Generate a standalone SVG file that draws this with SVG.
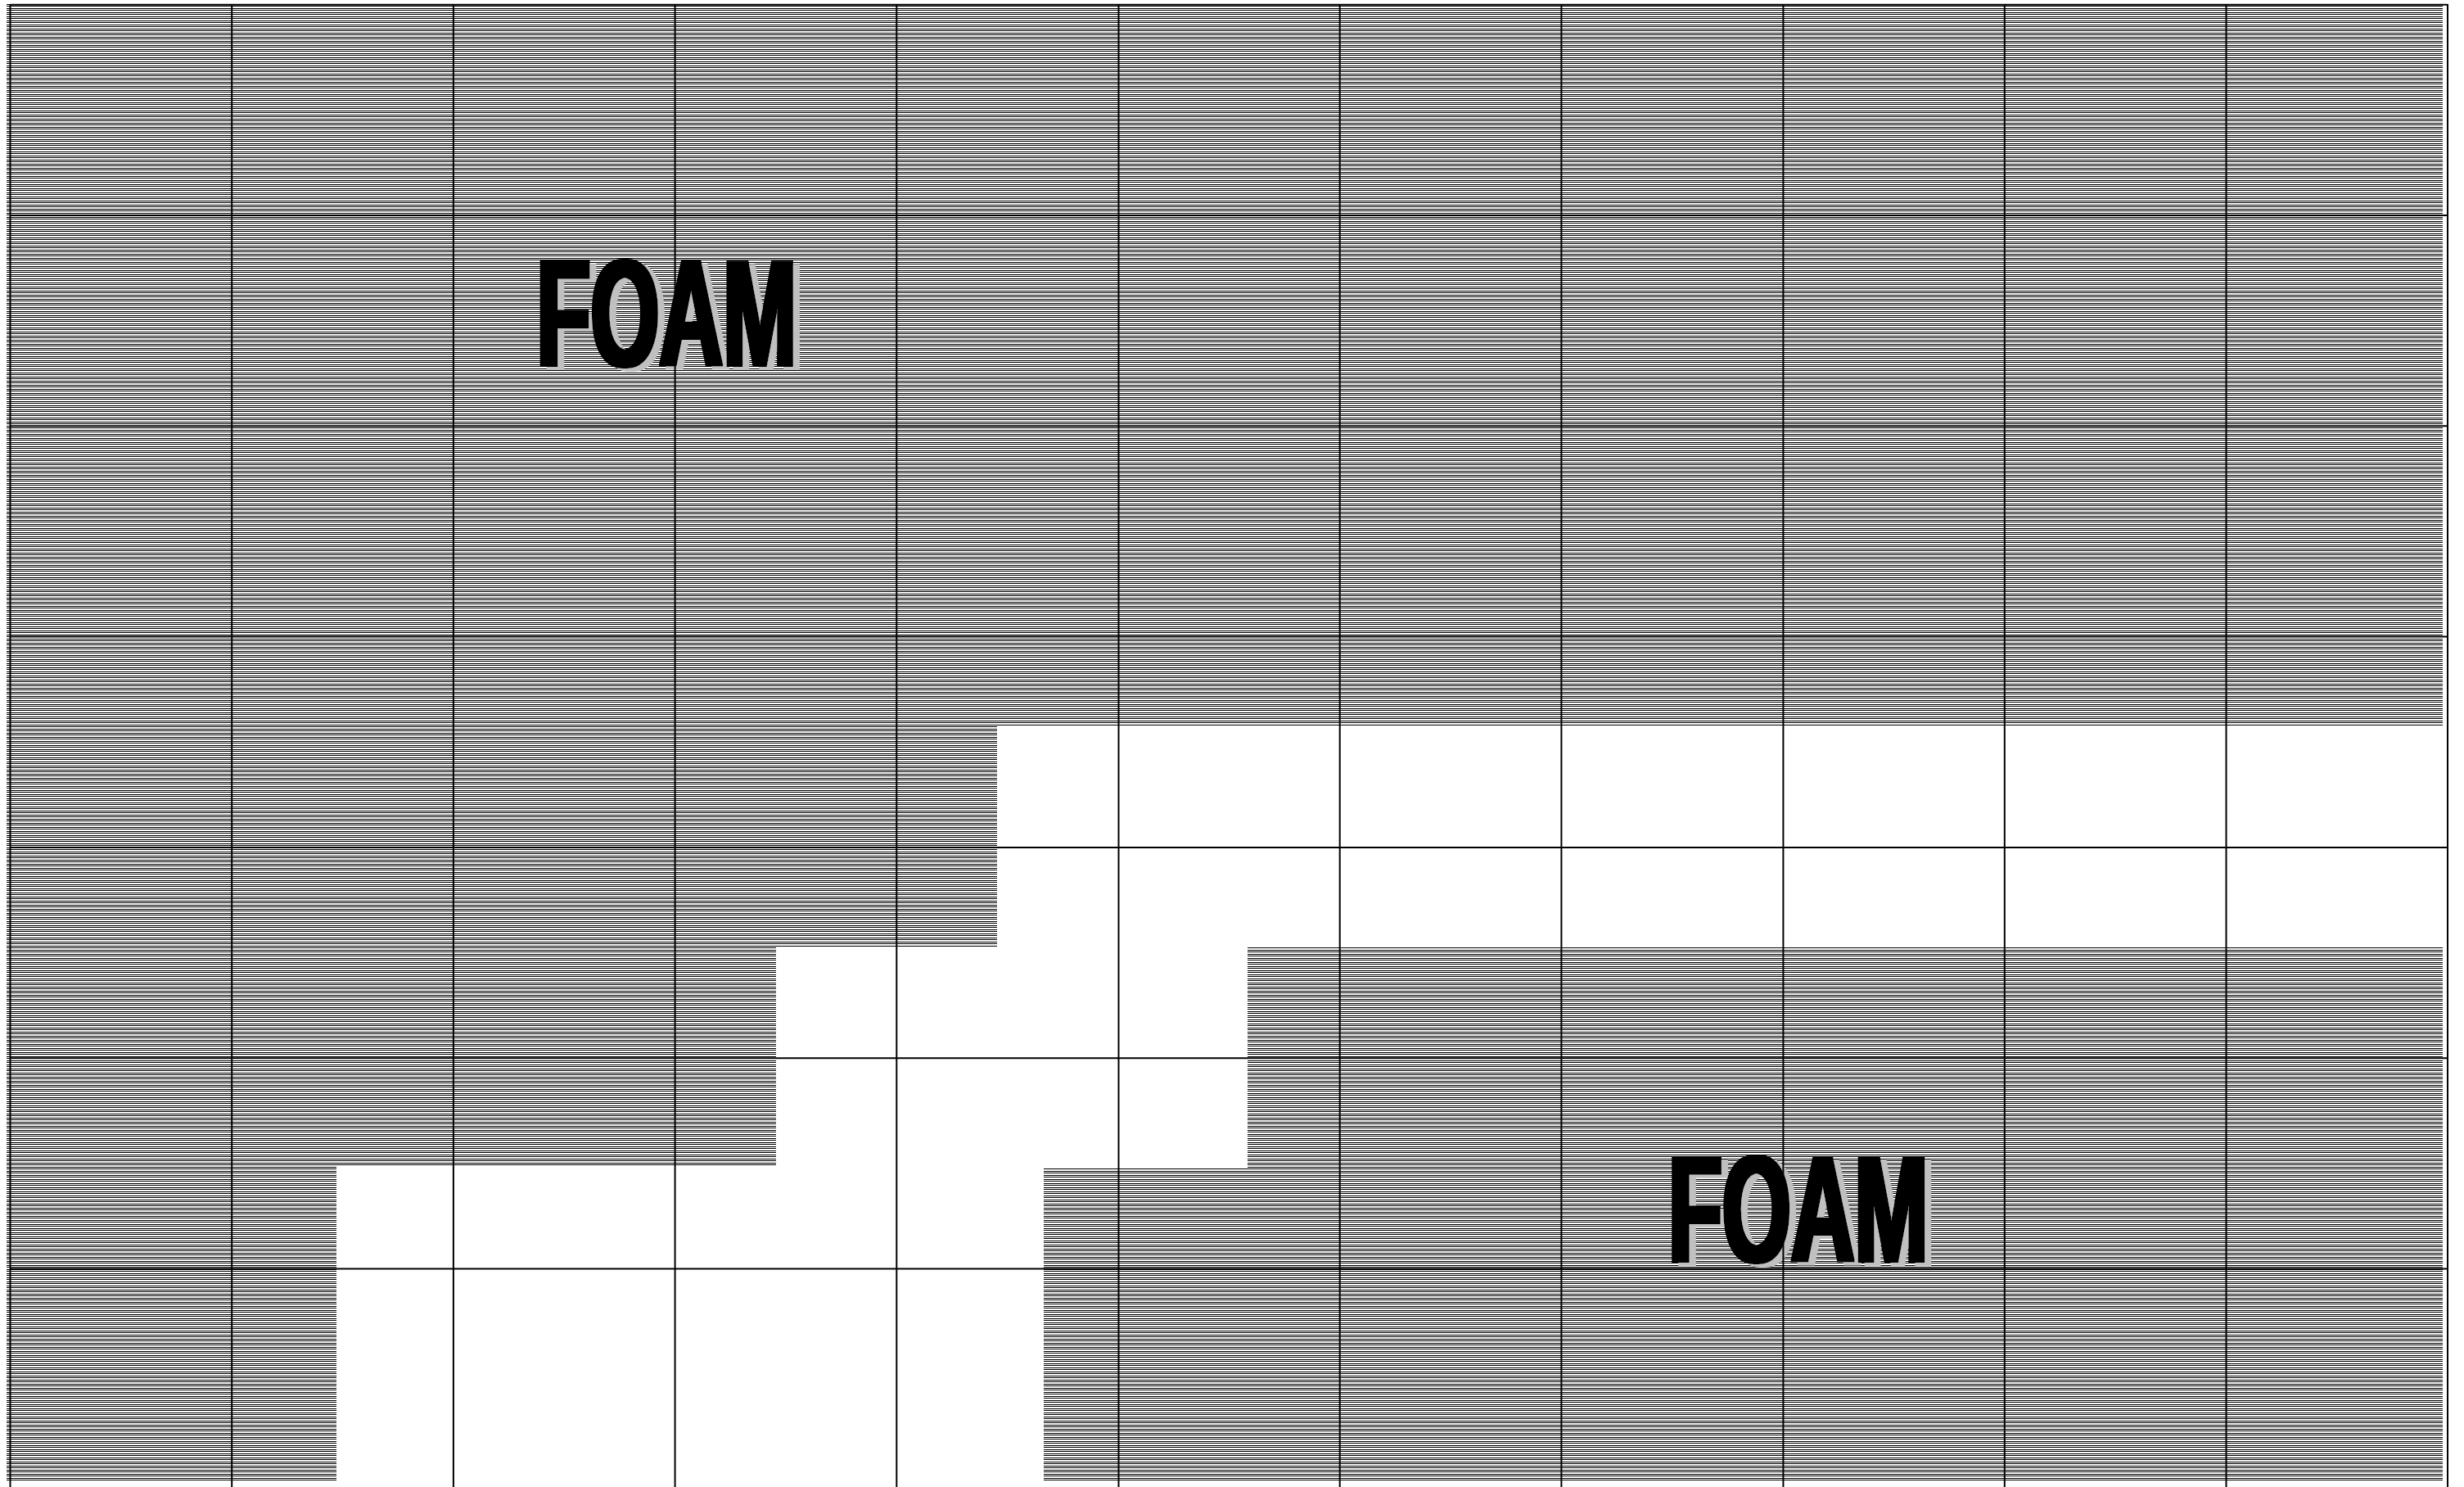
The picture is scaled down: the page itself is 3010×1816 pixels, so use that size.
<svg xmlns="http://www.w3.org/2000/svg" width="3010" height="1816" viewBox="0 0 3010 1816">
  <style>
    .hatch { fill: url(#hl); stroke: none; }
    .grid line { stroke: #000; stroke-width: 2; }
    .foam { font-family: "Liberation Sans", Arial, sans-serif; font-weight: bold; font-size: 186px; fill: #000; filter: url(#foamfx); }
  </style>
  <defs>
    <pattern id="hl" patternUnits="userSpaceOnUse" x="0" y="0" width="10" height="5">
      <rect x="0" y="0" width="10" height="5" fill="#fff"/>
      <rect x="0" y="0" width="10" height="1" fill="#000"/>
      <rect x="0" y="2" width="10" height="1" fill="#000"/>
    </pattern>
    <filter id="foamfx" x="-10%" y="-20%" width="130%" height="150%">
      <feMorphology in="SourceAlpha" operator="dilate" radius="2.5 0.5" result="thick"/>
      <feOffset in="thick" dx="8" dy="4" result="off"/>
      <feFlood flood-color="#c0c0c0" result="g"/>
      <feComposite in="g" in2="off" operator="in" result="shadow"/>
      <feFlood flood-color="#000000" result="k"/>
      <feComposite in="k" in2="thick" operator="in" result="main"/>
      <feMerge>
        <feMergeNode in="shadow"/>
        <feMergeNode in="main"/>
      </feMerge>
    </filter>
  </defs>
  <rect x="0" y="0" width="3010" height="1816" fill="#fff"/>

  <g id="foam-upper">
    <path class="hatch" d="M8,5 H2984 V887 H1218 V1156 H948 V1425 H411 V1808 H8 Z"/>
    <text class="foam" x="655.6" y="447" textLength="317.5" lengthAdjust="spacingAndGlyphs">FOAM</text>
  </g>
  <g id="foam-lower">
    <path class="hatch" d="M1524,1157 H2984 V1808 H1275 V1426 H1524 Z"/>
    <text class="foam" x="2037.9" y="1541" textLength="317.5" lengthAdjust="spacingAndGlyphs">FOAM</text>
  </g>

  <g id="grid" class="grid">
    <line x1="12.5" y1="5.7" x2="2990" y2="5.7"/>
    <line x1="12.5" y1="263" x2="2990" y2="263"/>
    <line x1="12.5" y1="520.3" x2="2990" y2="520.3"/>
    <line x1="12.5" y1="777.6" x2="2990" y2="777.6"/>
    <line x1="12.5" y1="1035" x2="2990" y2="1035"/>
    <line x1="12.5" y1="1292.3" x2="2990" y2="1292.3"/>
    <line x1="12.5" y1="1549.6" x2="2990" y2="1549.6"/>
    <line x1="12.5" y1="5" x2="12.5" y2="1816"/>
    <line x1="283.2" y1="5" x2="283.2" y2="1816"/>
    <line x1="553.9" y1="5" x2="553.9" y2="1816"/>
    <line x1="824.6" y1="5" x2="824.6" y2="1816"/>
    <line x1="1095.3" y1="5" x2="1095.3" y2="1816"/>
    <line x1="1366.5" y1="5" x2="1366.5" y2="1816"/>
    <line x1="1636.7" y1="5" x2="1636.7" y2="1816"/>
    <line x1="1907.4" y1="5" x2="1907.4" y2="1816"/>
    <line x1="2178.4" y1="5" x2="2178.4" y2="1816"/>
    <line x1="2448.8" y1="5" x2="2448.8" y2="1816"/>
    <line x1="2719.5" y1="5" x2="2719.5" y2="1816"/>
    <line x1="2990" y1="5" x2="2990" y2="1816"/>
  </g>
</svg>
